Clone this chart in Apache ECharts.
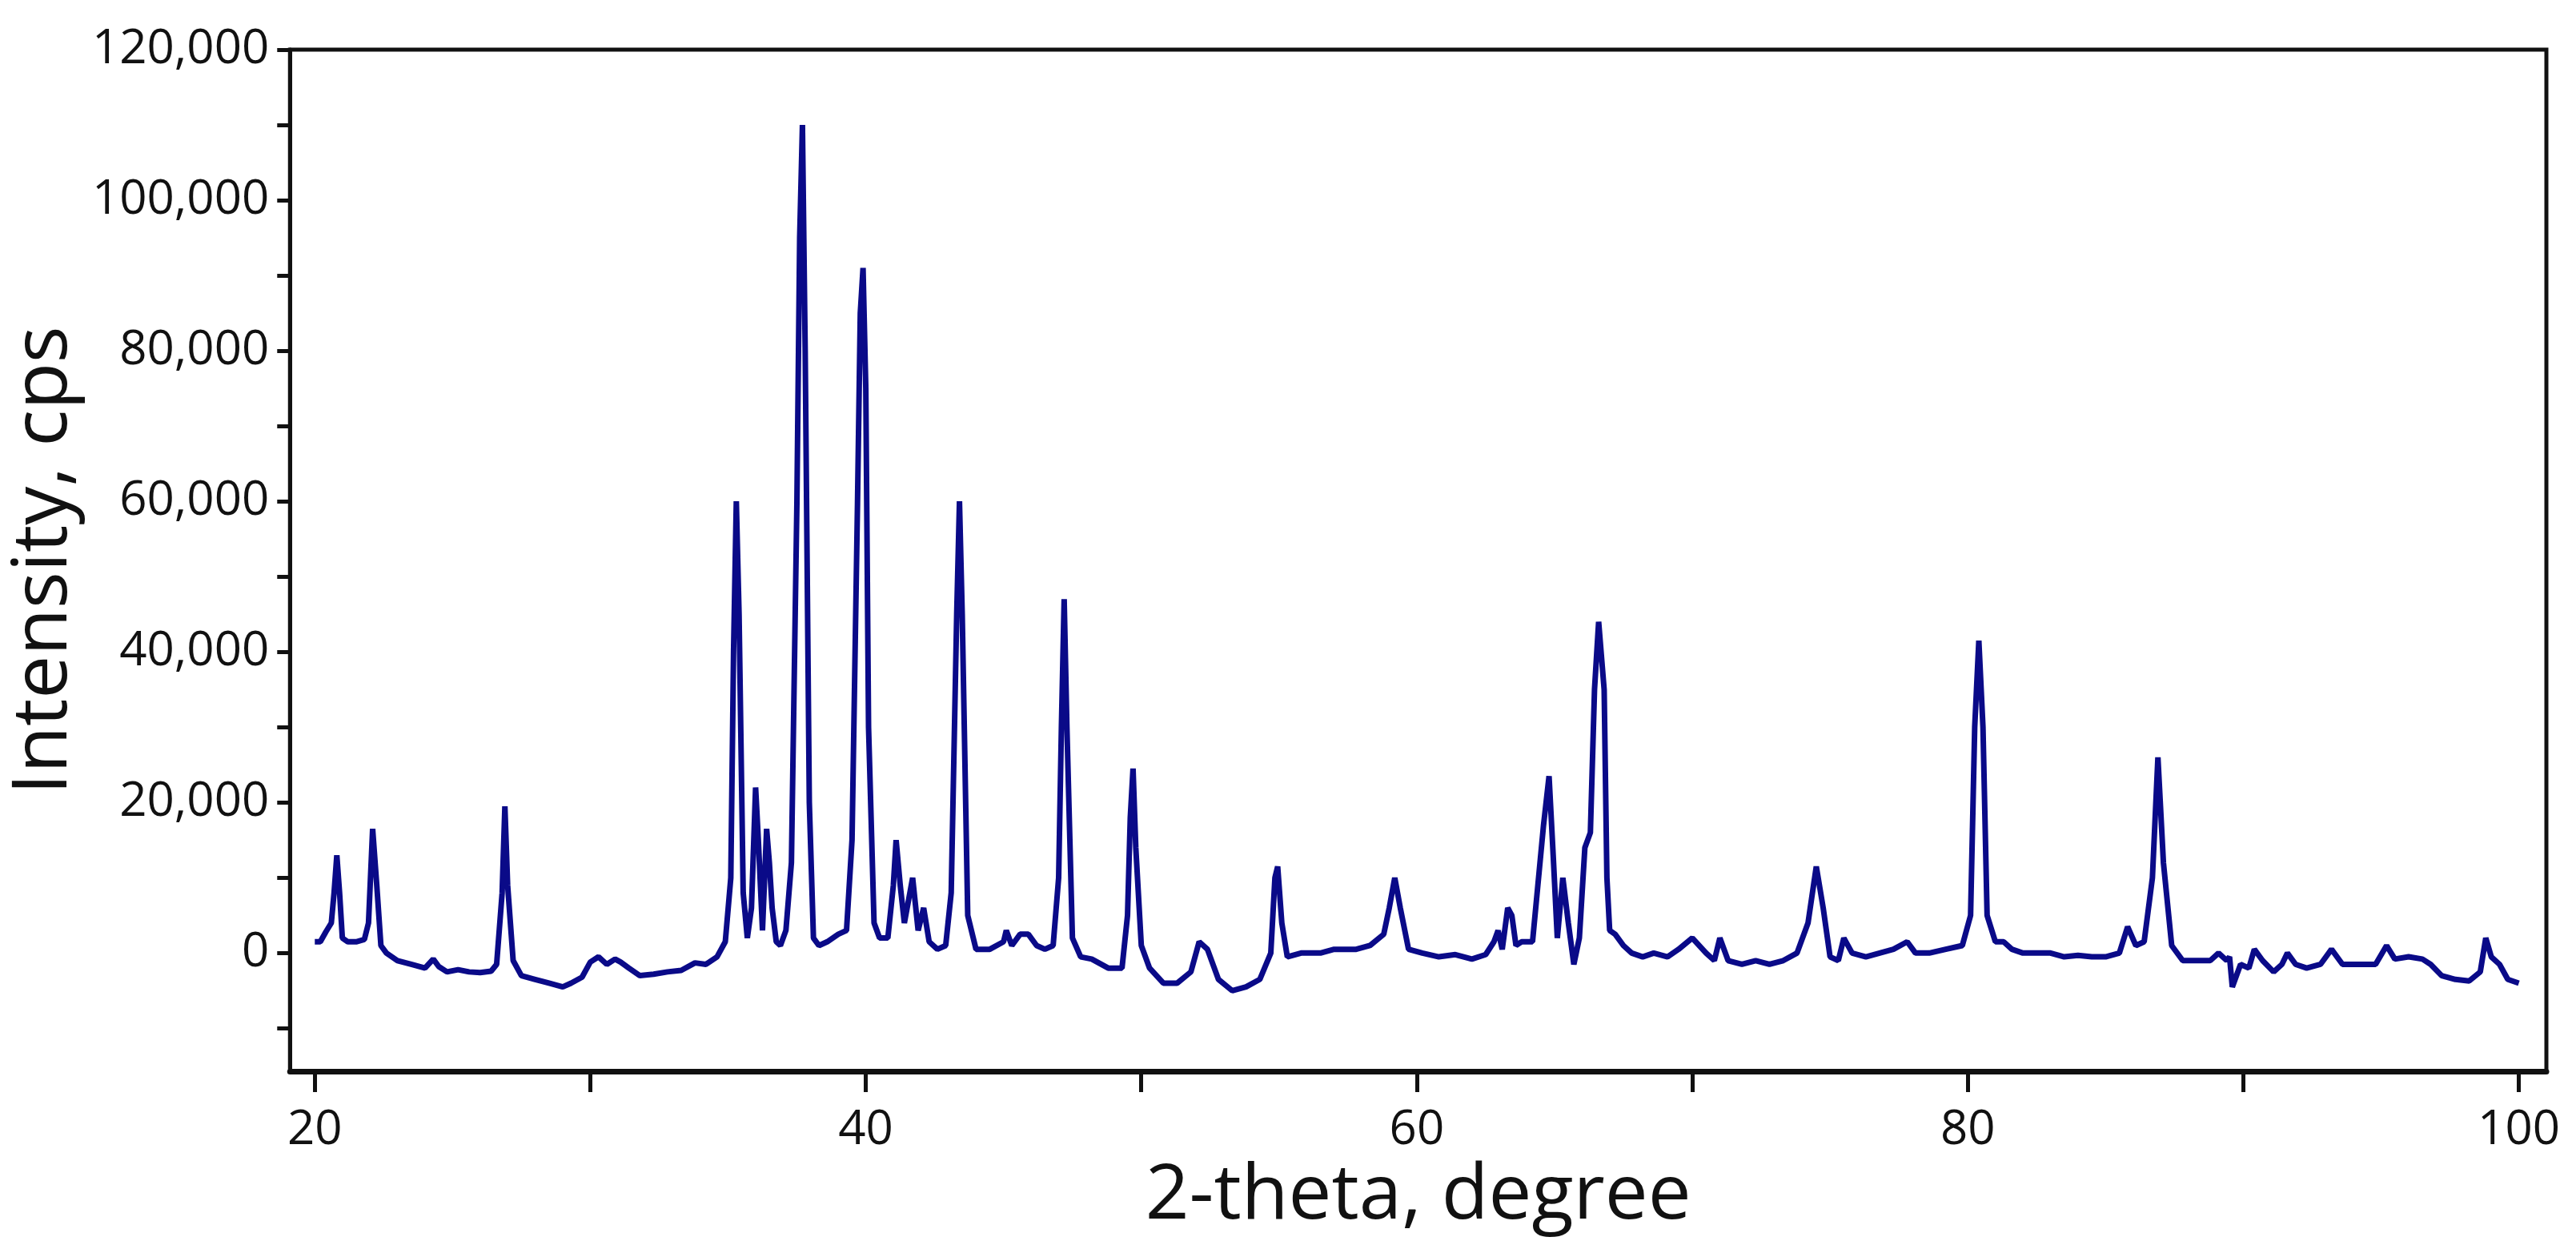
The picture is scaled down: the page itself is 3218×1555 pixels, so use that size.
<!DOCTYPE html>
<html><head><meta charset="utf-8">
<script src="https://cdn.jsdelivr.net/npm/echarts@6/dist/echarts.min.js"></script>
<style>html,body{margin:0;padding:0;background:#fff}#c{width:3218px;height:1555px}</style>
</head><body><div id="c"></div>
<script>
// [2-theta, intensity] pairs
const scanA = [[20.0,1500],[20.2,1500],[20.4,2800],[20.6,4000],[20.7,8000],[20.8,13000],[20.9,8000],[21.0,2000],[21.2,1500],[21.5,1500],[21.8,1800],[21.95,4000],[22.1,16500],[22.25,9000],[22.4,1000],[22.6,0],[23.0,-1000],[23.5,-1500],[24.0,-2000],[24.3,-800],[24.5,-1800],[24.8,-2500],[25.2,-2200],[25.6,-2500],[26.0,-2600],[26.4,-2400],[26.6,-1500],[26.8,8000],[26.9,19500],[27.0,9000],[27.2,-1000],[27.5,-3000],[28.0,-3500],[28.5,-4000],[29.0,-4500],[29.3,-4000],[29.7,-3200],[30.0,-1200],[30.3,-500],[30.6,-1500],[30.9,-800],[31.1,-1200],[31.4,-2000],[31.8,-3000],[32.3,-2800],[32.8,-2500],[33.3,-2300],[33.8,-1300],[34.2,-1500],[34.6,-500]];
const scanB = [[34.9,1500],[35.1,10000],[35.2,40000],[35.3,60000],[35.4,45000],[35.55,8000],[35.7,2000],[35.85,6000],[36.0,22000],[36.1,15000],[36.25,3000],[36.4,16500],[36.5,12000],[36.6,6000],[36.75,1500],[36.9,1000],[37.1,3000],[37.3,12000],[37.5,60000],[37.6,95000],[37.7,110000],[37.8,80000],[37.95,20000],[38.1,2000],[38.3,1000],[38.6,1500],[39.0,2500],[39.3,3000],[39.5,15000],[39.7,60000],[39.8,85000],[39.9,91000],[40.0,75000],[40.1,30000],[40.3,4000],[40.5,2000],[40.8,2000],[41.0,9000],[41.1,15000],[41.25,9000],[41.4,4000],[41.7,10000],[41.9,3000],[42.1,6000],[42.3,1500],[42.6,500],[42.9,1000],[43.1,8000],[43.3,45000],[43.4,60000],[43.5,45000],[43.7,5000],[44.0,500],[44.5,500],[45.0,1500],[45.1,3000],[45.3,1000],[45.6,2500],[45.9,2500],[46.2,1000],[46.5,500],[46.8,1000],[47.0,10000],[47.1,30000],[47.2,47000],[47.3,30000],[47.5,2000],[47.8,-500],[48.2,-800],[48.8,-2000],[49.3,-2000],[49.5,5000],[49.6,18000],[49.7,24500],[49.8,14000],[50.0,1000],[50.3,-2000],[50.8,-4000],[51.3,-4000],[51.8,-2500],[52.1,1500],[52.4,500],[52.8,-3500],[53.3,-5000],[53.8,-4500],[54.3,-3500],[54.7,0],[54.85,10000],[54.95,11500],[55.1,4000],[55.3,-500],[55.8,0],[56.5,0],[57.0,500],[57.3,500],[57.8,500],[58.3,1000],[58.8,2500],[59.0,6000],[59.2,10000],[59.4,6000],[59.7,500],[60.2,0],[60.8,-500],[61.4,-200],[62.0,-800],[62.5,-200],[62.8,1500],[62.95,3000],[63.1,500],[63.3,6000],[63.45,5000],[63.6,1000],[63.8,1500],[64.2,1500]];
const scanC = [[64.6,17000],[64.8,23500],[64.95,13000],[65.1,2000],[65.3,10000],[65.5,4000],[65.7,-1500],[65.9,2000],[66.1,14000],[66.3,16000],[66.45,35000],[66.6,44000],[66.8,35000],[66.9,10000],[67.0,3000],[67.2,2500],[67.5,1000],[67.8,0],[68.2,-500],[68.6,0],[69.1,-500],[69.5,500],[70.0,2000],[70.5,0],[70.8,-1000],[71.0,2000],[71.3,-1000],[71.8,-1500],[72.3,-1000],[72.8,-1500],[73.3,-1000],[73.8,0],[74.2,4000],[74.5,11500],[74.75,6000],[75.0,-500],[75.3,-1000],[75.5,2000],[75.8,0],[76.3,-500],[76.8,0],[77.3,500],[77.8,1500],[78.1,0],[78.6,0],[79.2,500],[79.8,1000],[80.1,5000],[80.25,30000],[80.4,41500],[80.55,30000],[80.7,5000],[81.0,1500],[81.3,1500],[81.6,500],[82.0,0],[82.5,0],[83.0,0],[83.5,-500],[84.0,-300],[84.5,-500],[85.0,-500],[85.5,0],[85.8,3500],[86.1,1000],[86.4,1500],[86.7,10000],[86.9,26000],[87.1,12000],[87.4,1000],[87.8,-1000],[88.3,-1000],[88.8,-1000],[89.1,0],[89.4,-1000],[89.5,-500],[89.6,-4500],[89.9,-1500],[90.2,-2000],[90.4,500],[90.7,-1000],[91.1,-2500],[91.4,-1500],[91.6,0],[91.9,-1500],[92.3,-2000],[92.8,-1500],[93.2,500],[93.6,-1500],[94.2,-1500],[94.8,-1500],[95.2,1000],[95.5,-800],[96.0,-500],[96.5,-800],[96.8,-1500],[97.2,-3000],[97.7,-3500],[98.2,-3700],[98.6,-2500],[98.8,2000],[99.0,-500],[99.3,-1500],[99.6,-3500],[100.0,-4000]];
const xLabelVals = [20,40,60,80,100];
const xTickVals = [20,30,40,50,60,70,80,90,100];
const yLabelVals = [0,20000,40000,60000,80000,100000,120000];
const yTickVals = [-10000,0,10000,20000,30000,40000,50000,60000,70000,80000,90000,100000,110000,120000];

const data = scanA.concat(scanB, scanC);
const ff = '"Open Sans", sans-serif';
const chart = echarts.init(document.getElementById('c'));
chart.setOption({
  animation:false,
  grid:{left:359,right:37,top:62,bottom:217,show:true,borderColor:'#111',borderWidth:5,backgroundColor:'transparent'},
  xAxis:{type:'value',min:19.1,max:101,
    name:'2-theta, degree',nameLocation:'middle',nameGap:82,
    nameTextStyle:{fontFamily:ff,fontSize:96,color:'#111'},
    axisLine:{show:true,onZero:false,lineStyle:{color:'#111',width:7}},
    axisTick:{show:true,customValues:xTickVals,length:26,lineStyle:{color:'#111',width:5}},
    axisLabel:{customValues:xLabelVals,fontFamily:ff,fontSize:60,color:'#111',margin:44},
    splitLine:{show:false}},
  yAxis:{type:'value',min:-15700,max:120000,
    name:'Intensity, cps',nameLocation:'middle',nameGap:250,
    nameTextStyle:{fontFamily:ff,fontSize:96,color:'#111'},
    axisLine:{show:true,onZero:false,lineStyle:{color:'#111',width:5}},
    axisTick:{show:true,customValues:yTickVals,length:16,lineStyle:{color:'#111',width:5}},
    axisLabel:{customValues:yLabelVals,fontFamily:ff,fontSize:60,color:'#111',margin:26,
      formatter:v=>v.toLocaleString('en-US')},
    splitLine:{show:false}},
  series:[{type:'line',data:data,showSymbol:false,lineStyle:{color:'#0a0a88',width:7}}]
});
</script></body></html>
